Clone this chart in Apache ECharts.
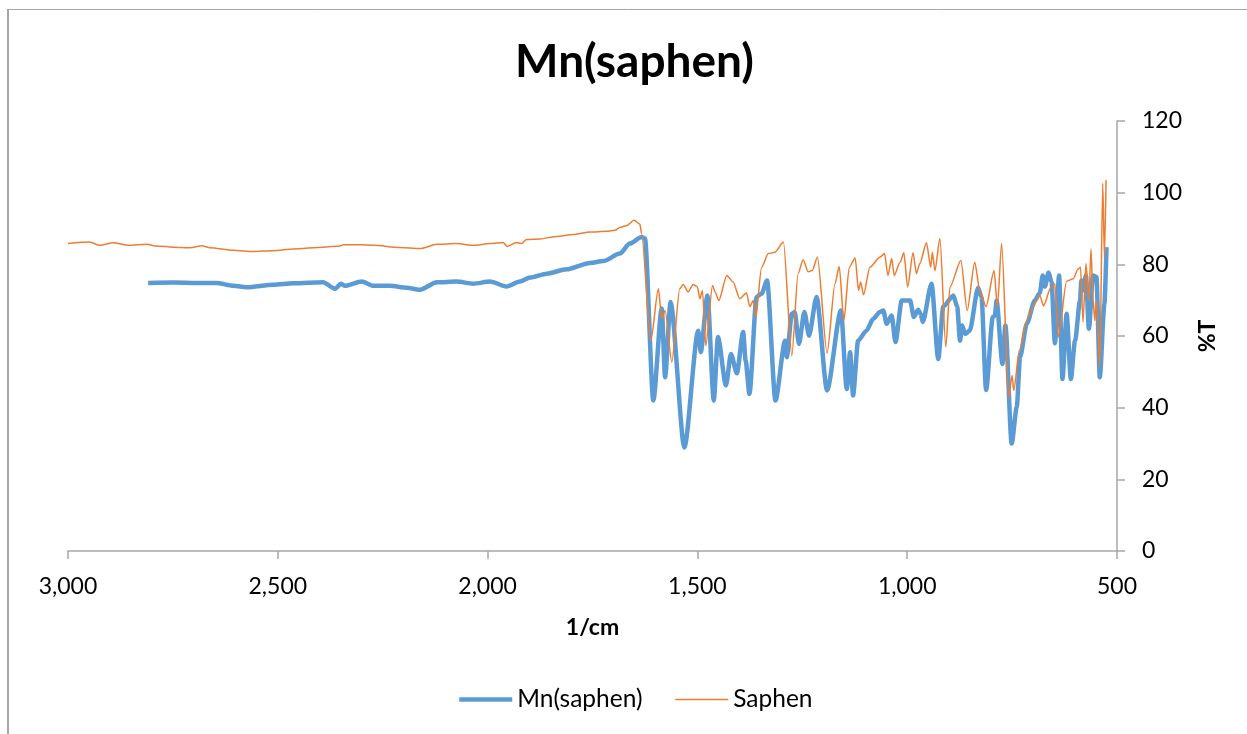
<!DOCTYPE html>
<html>
<head>
<meta charset="utf-8">
<script src="https://cdn.jsdelivr.net/npm/echarts@6/dist/echarts.min.js"></script>
<style>
html,body{margin:0;padding:0;background:#fff;}
#chart{width:1247px;height:734px;}
</style>
</head>
<body>
<div id="chart"></div>
<script>
// ---- data ----
const titleText = 'Mn(saphen)';
const seriesNames = ['Mn(saphen)', 'Saphen'];
const xTicks = [3000, 2500, 2000, 1500, 1000, 500];
const yTicks = [0, 20, 40, 60, 80, 100, 120];

const mnWave = [2809,2749,2693,2646,2606,2574,2511,2463,2392,2364,2349,2340,2300,2272,2233,2193,2161,2121,2074,2034,1994,1955,1923,1899,1859,1812,1756,1724,1685,1661,1633,1625,
  1605,1585,1577,1564,1531,1498,1492,1476,1461,1451,1432,1420,1406,1391,1385,1376,1359,1347,1334,1314,1291,1287,1275,1268,1258,1245,1234,1216,1191,1158,1144,1136,1129,1117,1097,1081,1065,1057,1049,1037,1028,1013,993,984,974,968,963,942,926,914,890,881,874,869,862,851,831,823,812,796,791,787,773,766,751,739,731,715,696,684,677,672,663,656,648,638,630,620,610,600,588,585,581,574,567,557,549,541,530,525];
const mnT = [74.8,74.9,74.8,74.8,74.0,73.6,74.3,74.7,75.0,73.2,74.6,74.0,75.2,74.0,74.0,73.5,72.9,75.0,75.2,74.6,75.2,73.8,75.2,76.3,77.4,78.6,80.4,80.9,83.0,85.8,87.6,87.2,
  42.0,67.7,48.5,69.5,28.9,61.5,55.5,71.3,42.0,59.7,46.2,55.0,49.6,61.1,53.1,43.8,70.9,71.8,75.5,42.0,58.7,54.1,66.2,66.7,57.8,66.7,60.1,70.9,44.8,67.1,45.2,55.5,43.4,58.7,61.5,64.8,66.7,67.1,63.4,65.7,58.3,69.9,69.9,65.3,67.3,66.2,63.9,74.6,53.6,68.2,71.3,68.2,58.7,62.9,60.6,61.5,73.5,70.9,44.9,65.3,65.7,69.9,52.2,62.9,30.0,40.1,54.1,63.4,69.9,72.0,76.9,73.8,77.7,75.1,58.0,76.9,48.0,66.2,48.0,58.7,69.9,75.5,72.8,76.9,62.0,76.9,76.5,48.5,69.0,84.8];

const saWave = [3000,2948,2924,2892,2856,2812,2789,2749,2709,2681,2662,2606,2558,2511,2463,2392,2352,2344,2304,2272,2209,2161,2121,2074,2034,1994,1963,1953,1931,1919,1907,1875,1835,1796,1756,1716,1696,1685,1669,1651,1637,1633,
  1611,1593,1585,1577,1561,1542,1534,1522,1510,1500,1494,1488,1480,1464,1458,1449,1430,1415,1399,1383,1375,1367,1361,1347,1331,1315,1295,1275,1260,1248,1236,1226,1214,1191,1172,1162,1151,1138,1124,1116,1111,1104,1089,1065,1054,1046,1037,1031,1017,1008,999,986,978,970,954,944,940,934,922,908,898,872,857,839,827,812,793,785,775,758,750,746,733,715,700,684,675,658,648,640,620,604,593,587,581,574,567,562,557,553,549,541,534,530,526];
const saT = [85.8,86.2,85.3,86.0,85.3,85.6,85.1,84.8,84.6,85.2,84.6,83.9,83.6,83.8,84.3,84.8,85.1,85.5,85.5,85.3,84.7,84.4,85.6,85.8,85.3,85.8,86.1,85.0,86.1,85.8,86.9,87.1,87.8,88.3,89.0,89.2,89.5,90.3,90.8,92.3,91.2,88.6,
  58.7,73.2,64.8,67.1,52.7,73.2,74.4,72.3,74.4,73.7,70.4,72.7,57.3,74.1,72.3,69.9,76.9,75.1,70.4,72.0,68.2,69.9,65.3,79.2,83.0,83.4,86.2,54.5,77.4,81.3,77.9,78.3,82.0,55.2,74.6,79.4,64.3,79.2,81.8,72.7,75.1,71.5,79.2,82.0,83.0,76.9,81.6,76.9,80.6,83.2,73.7,83.2,77.4,80.2,86.0,79.2,83.4,78.2,87.2,56.9,73.7,81.1,67.1,80.6,72.7,68.2,78.3,68.2,85.8,42.9,49.0,44.8,55.9,64.3,68.2,71.3,68.4,73.5,74.6,59.7,75.3,76.0,78.6,79.2,63.9,80.2,69.9,84.3,70.4,64.3,69.9,51.3,102.6,82.0,103.5];

const pair = (xs, ys) => xs.map((x, i) => [x, ys[i]]);

const FONT = 'Lato';
const AXIS_GRAY = '#A6A6A6';
const BLUE = '#5B9BD5';
const ORANGE = '#ED7D31';
const chart = echarts.init(document.getElementById('chart'), null, {renderer: 'canvas'});
chart.setOption({
  backgroundColor: '#ffffff',
  animation: false,
  textStyle: {fontFamily: FONT, color: '#000'},
  title: {
    text: titleText,
    left: 510,
    top: 34,
    textStyle: {fontFamily: FONT, fontSize: 46, fontWeight: 'bold', color: '#000'}
  },
  graphic: [
    {type: 'line', shape: {x1: 8, y1: 9, x2: 8, y2: 740}, style: {stroke: AXIS_GRAY, lineWidth: 2}},
    {type: 'line', shape: {x1: 7, y1: 9.5, x2: 1260, y2: 9.5}, style: {stroke: AXIS_GRAY, lineWidth: 1}}
  ],
  grid: {left: 68, right: 130, top: 121, bottom: 183},
  legend: {
    bottom: 17,
    left: 452,
    itemWidth: 53,
    itemHeight: 14,
    itemGap: 32,
    itemStyle: {opacity: 0},
    textStyle: {fontFamily: FONT, fontSize: 24.5, color: '#000'},
    data: [
      {name: seriesNames[0], lineStyle: {width: 4.5, color: BLUE}},
      {name: seriesNames[1], lineStyle: {width: 1.5, color: ORANGE}}
    ]
  },
  xAxis: {
    type: 'value',
    inverse: true,
    min: xTicks[xTicks.length - 1],
    max: xTicks[0],
    interval: 500,
    name: '1/cm',
    nameLocation: 'middle',
    nameGap: 65,
    nameTextStyle: {fontFamily: FONT, fontSize: 23, fontWeight: 'bold', color: '#000'},
    axisLine: {show: true, onZero: false, lineStyle: {color: AXIS_GRAY, width: 1.5}},
    axisTick: {show: true, inside: false, length: 8, lineStyle: {color: AXIS_GRAY, width: 1.5}},
    axisLabel: {margin: 24, fontFamily: FONT, fontSize: 23, color: '#000',
      formatter: v => v.toLocaleString('en-US')},
    splitLine: {show: false}
  },
  yAxis: {
    type: 'value',
    position: 'right',
    min: yTicks[0],
    max: yTicks[yTicks.length - 1],
    interval: 20,
    name: '%T',
    nameLocation: 'middle',
    nameRotate: 90,
    nameGap: 79,
    nameTextStyle: {fontFamily: FONT, fontSize: 23, fontWeight: 'bold', color: '#000'},
    axisLine: {show: true, lineStyle: {color: AXIS_GRAY, width: 1.5}},
    axisTick: {show: true, inside: false, length: 8, lineStyle: {color: AXIS_GRAY, width: 1.5}},
    axisLabel: {margin: 25, fontFamily: FONT, fontSize: 23, color: '#000'},
    splitLine: {show: false}
  },
  series: [
    {
      name: seriesNames[0],
      type: 'line',
      data: pair(mnWave, mnT),
      symbol: 'none',
      smooth: 0.25,
      smoothMonotone: 'x',
      z: 2,
      lineStyle: {color: BLUE, width: 4.5},
      itemStyle: {color: BLUE}
    },
    {
      name: seriesNames[1],
      type: 'line',
      data: pair(saWave, saT),
      symbol: 'none',
      smooth: 0.25,
      smoothMonotone: 'x',
      z: 3,
      lineStyle: {color: ORANGE, width: 1.5},
      itemStyle: {color: ORANGE}
    }
  ]
});
</script>
</body>
</html>
